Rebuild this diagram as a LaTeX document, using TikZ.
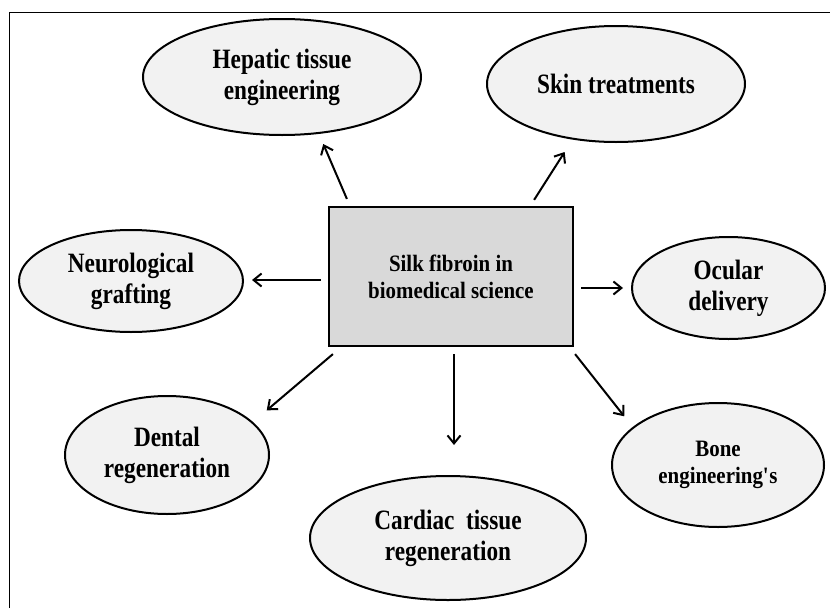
\documentclass[tikz,border=0pt]{standalone}
\usepackage{fontspec}
\setmainfont{Liberation Serif}
\newfontfamily\ellfont{Liberation Serif}[FakeStretch=0.83]
\newfontfamily\hubfont{Liberation Serif}[FakeStretch=0.89]
\usetikzlibrary{arrows.meta,shapes.geometric}
\definecolor{ellfill}{HTML}{F2F2F2}
\definecolor{boxfill}{HTML}{D9D9D9}
\begin{document}
\begin{tikzpicture}[x=1pt,y=-1pt,
  bubble/.style={ellipse, draw=black, line width=2pt, fill=ellfill, inner sep=0pt, align=center,
    font=\ellfont\bfseries\fontsize{28}{31}\selectfont},
  hub/.style={rectangle, draw=black, line width=2.2pt, fill=boxfill, minimum width=244pt,
    minimum height=139pt, inner sep=0pt, align=center, font=\hubfont\bfseries\fontsize{23.5}{27}\selectfont},
  small/.style={font=\hubfont\bfseries\fontsize{23.5}{27}\selectfont},
  arr/.style={line width=2pt, -{Straight Barb[length=8pt,width=13pt]}}]
\useasboundingbox (0,0) rectangle (830,608);
\draw[line width=1pt] (9,608) -- (9,12) -- (830,12);

\node[hub] (box) at (451,276.5) {Silk fibroin in\\biomedical science};

\node[bubble, minimum width=278pt, minimum height=116pt] (hep) at (282,77) {Hepatic tissue\\engineering};
\node[bubble, minimum width=258pt, minimum height=116pt] (skin) at (616,84) {Skin treatments};
\node[bubble, minimum width=224pt, minimum height=102pt] (neuro) at (131,281) {Neurological\\grafting};
\node[bubble, minimum width=193pt, minimum height=102pt] (ocu) at (728.5,288) {Ocular\\delivery};
\node[bubble, minimum width=204pt, minimum height=118pt] (dent) at (167,455) {Dental\\regeneration};
\node[bubble, minimum width=276pt, minimum height=124pt] (card) at (448,538) {Cardiac\ \ tissue\\regeneration};
\node[bubble, small, minimum width=212pt, minimum height=124pt] (bone) at (718,465) {Bone\\engineering\textquotesingle s};

\coordinate (sN) at ([shift={(-7,3.5)}]box.west);
\coordinate (sO) at ([shift={(7,11.5)}]box.east);
\coordinate (sC) at ([shift={(3,7)}]box.south);

\draw[arr, shorten >=11pt] ([shift={(19,-7)}]box.north west) -- (hep.-57.6);
\draw[arr, shorten >=14.7pt] ([shift={(-40,-6)}]box.north east) -- (skin.-128.3);
\draw[arr, shorten >=8pt] (sN) -- (sN -| neuro.east);
\draw[arr, shorten >=8pt] (sO) -- (sO -| ocu.west);
\draw[arr, shorten >=18pt] ([shift={(5,7)}]box.south west) -- (dent.21.7);
\draw[arr, shorten >=30pt] (sC) -- (sC |- card.north);
\draw[arr, shorten >=13.6pt] ([shift={(1,7)}]box.south east) -- (bone.156.2);
\end{tikzpicture}
\end{document}
